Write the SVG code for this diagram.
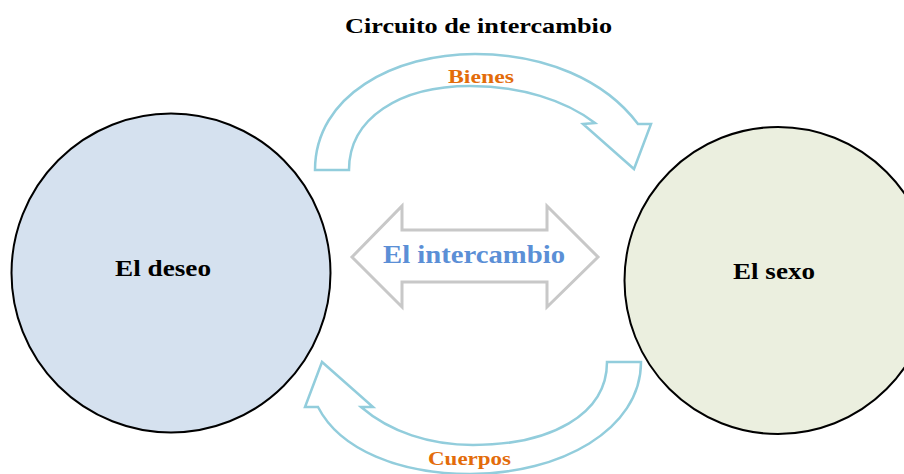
<svg xmlns="http://www.w3.org/2000/svg" width="904" height="474" viewBox="0 0 904 474">
<style>
.node{stroke:#000;stroke-width:2}
.lbl{font-family:"Liberation Serif",serif;font-weight:bold;text-anchor:middle}
.curve{fill:#fff;stroke:#92cddc;stroke-width:2.5;stroke-linejoin:miter}
.orange{fill:#e36c0a;font-size:19px}
</style>
<rect width="904" height="474" fill="#fff"/>
<text class="lbl" x="478.5" y="33" font-size="22" fill="#000" textLength="267" lengthAdjust="spacingAndGlyphs">Circuito de intercambio</text>
<g id="connectors">
  <g id="top-arrow">
    <path class="curve" d="M315,170 C315,95 395,54 475,54 C545,54 605,80 638,124 L651,124 L634,169 L583,124 L595,123 C565,100 520,86 470,86 C400,86 349,118 349,170 Z"/>
    <text class="lbl orange" x="481" y="83" textLength="66" lengthAdjust="spacingAndGlyphs">Bienes</text>
  </g>
  <g id="bottom-arrow">
    <path class="curve" d="M641,362 C641,430 560,474 470,474 C400,474 340,450 318,407 L305,407 L322,362 L373,407 L361,407 C390,432 430,445 473,445 C550,445 607,415 607,362 Z"/>
    <text class="lbl orange" x="469.5" y="465" textLength="83" lengthAdjust="spacingAndGlyphs">Cuerpos</text>
  </g>
</g>
<g id="node-deseo">
  <circle class="node" cx="171" cy="273" r="159.5" fill="#d5e1ef"/>
  <text class="lbl" x="163" y="276" font-size="23" fill="#000" textLength="96" lengthAdjust="spacingAndGlyphs">El deseo</text>
</g>
<g id="node-sexo">
  <circle class="node" cx="778" cy="280.5" r="153.5" fill="#ebefdf"/>
  <text class="lbl" x="774" y="279" font-size="23" fill="#000" textLength="82" lengthAdjust="spacingAndGlyphs">El sexo</text>
</g>
<g id="node-intercambio">
  <path d="M352,257 L402,206 L402,230 L547,230 L547,206 L598,257 L547,307 L547,282 L402,282 L402,307 Z" fill="#fff" stroke="#c8c8c8" stroke-width="3"/>
  <text class="lbl" x="474" y="263" font-size="25" fill="#5b8fd6" textLength="182" lengthAdjust="spacingAndGlyphs">El intercambio</text>
</g>
</svg>
